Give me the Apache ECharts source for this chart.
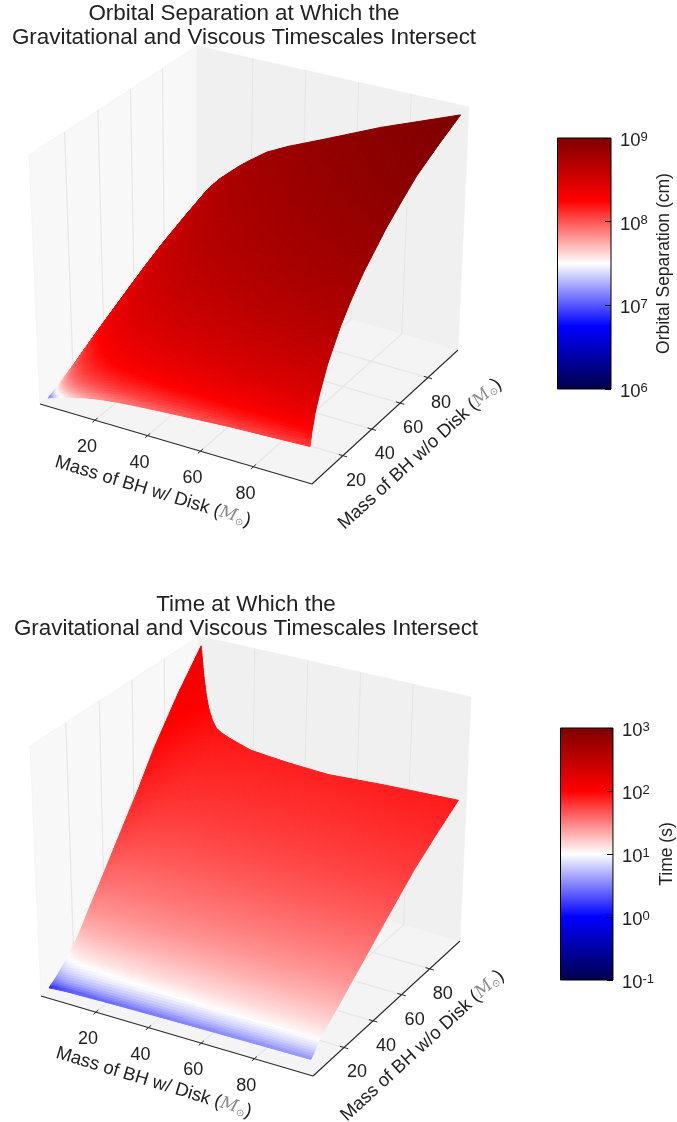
<!DOCTYPE html>
<html><head><meta charset="utf-8">
<style>html,body{margin:0;padding:0;background:#fff}#c{width:677px;height:1122px}</style>
<script src="https://cdn.jsdelivr.net/npm/echarts@6/dist/echarts.min.js"></script>
</head><body><div id="c"></div>
<script>
// ---------- data ----------
const massWithDisk = [1, 2, 3, 4, 5.5, 7, 9, 12, 16, 20, 27, 35, 50, 70, 100];
const massNoDisk   = [1, 2, 4, 7, 12, 20, 27, 35, 50, 60, 70, 85, 100];
const tickValues   = [20, 40, 60, 80];
// orbital separation in units of 1e8 cm; one row per massNoDisk value
const separationRows = [
  [0.11,0.15,0.19,0.23,0.28,0.33,0.40,0.48,0.58,0.66,0.76,0.84,0.95,1.08,1.20],
  [0.14,0.20,0.26,0.31,0.38,0.44,0.56,0.68,0.82,0.95,1.10,1.20,1.35,1.50,1.70],
  [0.20,0.28,0.36,0.43,0.53,0.62,0.78,0.95,1.11,1.25,1.45,1.60,1.80,2.05,2.35],
  [0.30,0.41,0.52,0.61,0.75,0.87,1.03,1.20,1.41,1.60,1.82,2.00,2.30,2.62,3.00],
  [0.45,0.60,0.75,0.87,1.03,1.16,1.32,1.52,1.76,1.97,2.24,2.48,2.87,3.34,3.90],
  [0.69,0.90,1.09,1.24,1.41,1.55,1.74,1.98,2.26,2.49,2.82,3.12,3.59,4.18,4.96],
  [0.91,1.15,1.36,1.54,1.72,1.88,2.08,2.33,2.65,2.90,3.26,3.60,4.12,4.80,5.70],
  [1.14,1.42,1.65,1.84,2.05,2.23,2.44,2.70,3.04,3.33,3.72,4.08,4.65,5.42,6.42],
  [1.59,1.92,2.19,2.41,2.62,2.80,3.03,3.33,3.68,3.98,4.42,4.84,5.51,6.36,7.53],
  [1.90,2.26,2.55,2.78,3.00,3.18,3.42,3.72,4.08,4.39,4.85,5.28,6.00,6.92,8.15],
  [2.21,2.60,2.92,3.13,3.34,3.52,3.76,4.06,4.44,4.77,5.24,5.68,6.42,7.46,8.75],
  [2.65,3.05,3.37,3.58,3.80,4.00,4.26,4.58,5.00,5.34,5.85,6.28,7.05,8.05,9.40],
  [3.10,3.50,3.80,4.00,4.22,4.42,4.68,5.00,5.42,5.80,6.40,6.88,7.65,8.68,10.0]
];
// time in seconds; one row per massNoDisk value
const timeRows = [
  [1.2,1.4,1.5,1.6,1.75,1.9,2.0,2.1,2.25,2.4,2.6,2.8,3.1,3.4,3.8],
  [2.0,2.1,2.2,2.3,2.45,2.6,2.7,2.8,2.95,3.1,3.3,3.5,3.8,4.2,4.7],
  [3.0,3.4,3.7,3.9,4.1,4.3,4.5,4.8,5.0,5.2,5.5,5.7,6.0,6.4,7.0],
  [5.0,5.7,6.2,6.5,6.9,7.2,7.6,8.0,8.3,8.6,9.0,9.3,9.8,10.4,11],
  [9,10,10.6,11,11.6,12,12.3,12.5,12.8,13,13.3,13.5,13.8,14,14.3],
  [17,18,18.6,19,19,19,19.5,20,20,20,20,20,20,20.3,20],
  [27,27,27,27,26.5,26.5,26.5,26.5,26.5,26.5,26.5,26.3,26,25.8,25.5],
  [38,37,36,35,34.5,34,33.5,33,33,33,33,32.8,32.5,32,31.5],
  [60,56,53,51,49,48,47,46,45.5,45,44.5,44,44,44,43.5],
  [75,68,64,61,58.5,57,55.5,54,53,52.5,52,52,51.5,51.5,51.5],
  [92,82,76,72,68,66,64,62,61,60,59.5,59,58.5,58.5,59.5],
  [114,98,90,84,79,76,74,72,70.5,69.5,68.5,67.5,67,67.5,69.5],
  [134,117,105,97,90,86,84,82,80,78,77,76,75,77,79]
];
const titleTop = 'Orbital Separation at Which the\nGravitational and Viscous Timescales Intersect';
const titleBottom = 'Time at Which the\nGravitational and Viscous Timescales Intersect';
const xName = 'Mass of BH w/ Disk (';
const yName = 'Mass of BH w/o Disk (';
const cbarTopName = 'Orbital Separation (cm)';
const cbarBottomName = 'Time (s)';
const seismic = [[0,[0,0,76]],[0.25,[0,0,255]],[0.5,[255,255,255]],[0.75,[255,0,0]],[1,[127,0,0]]];

// ---------- view of each 3D box ----------
const viewTop = {
  floor:[[40,404],[312,484],[458,350],[197,275]],
  roof:[[29,155],[316,218],[469,107],[197,46]],
  xLim:[-1,102], yLim:[-1,102], zLim:[-0.1,10.3], zScale:1e8,
  cLim:[6,9], rows:separationRows,
  xLabelOff:[-8,27], yLabelOff:[13,25], xNameOff:[-21,48], yNameOff:[34,38]
};
const viewBottom = {
  floor:[[41,996],[313,1076],[460,941],[198,866]],
  roof:[[30,746],[317,809],[471,697],[199,636]],
  xLim:[-1,102], yLim:[-1,102], zLim:[-2.7,138], zScale:1,
  cLim:[-1,3], rows:timeRows,
  xLabelOff:[-8,27], yLabelOff:[13,25], xNameOff:[-21,47], yNameOff:[35,38]
};
function quadMap(q){
  const [x0,y0]=q[0],[x1,y1]=q[1],[x2,y2]=q[2],[x3,y3]=q[3];
  const dx1=x1-x2,dx2=x3-x2,sx=x0-x1+x2-x3,dy1=y1-y2,dy2=y3-y2,sy=y0-y1+y2-y3;
  const den=dx1*dy2-dx2*dy1, g=(sx*dy2-dx2*sy)/den, h=(dx1*sy-sx*dy1)/den;
  const a=x1-x0+g*x1,b=x3-x0+h*x3,d=y1-y0+g*y1,e=y3-y0+h*y3;
  return (u,v)=>{const w=g*u+h*v+1;return [(a*u+b*v+x0)/w,(d*u+e*v+y0)/w];};
}
function makeProjector(view){
  const fl=quadMap(view.floor), rf=quadMap(view.roof);
  return (x,y,z)=>{
    const u=(x-view.xLim[0])/(view.xLim[1]-view.xLim[0]);
    const v=(y-view.yLim[0])/(view.yLim[1]-view.yLim[0]);
    const w=(z-view.zLim[0])/(view.zLim[1]-view.zLim[0]);
    const p=fl(u,v),q=rf(u,v);
    return [p[0]+(q[0]-p[0])*w,p[1]+(q[1]-p[1])*w];
  };
}
function cmap(t){
  t=Math.max(0,Math.min(1,t));
  for(let i=1;i<seismic.length;i++){
    if(t<=seismic[i][0]){
      const a=seismic[i-1],b=seismic[i],f=(t-a[0])/(b[0]-a[0]);
      const c=a[1].map((v,k)=>Math.round(v+(b[1][k]-v)*f));
      return 'rgb('+c.join(',')+')';
    }
  }
  return 'rgb(127,0,0)';
}
const FONT='"Liberation Sans",Arial,sans-serif', INK='#222';

function boxSeries(view){
  const P=makeProjector(view);
  const [xa,xb]=view.xLim,[ya,yb]=view.yLim,[za,zb]=view.zLim;
  return {
    type:'custom',coordinateSystem:'cartesian2d',xAxisIndex:0,yAxisIndex:0,silent:true,clip:false,z:1,
    data:[[0]],
    renderItem(params,api){
      const C=p=>api.coord(p), kids=[];
      const poly=(pts,fill)=>kids.push({type:'polygon',silent:true,shape:{points:pts.map(C)},style:{fill,stroke:'#f0f0f0',lineWidth:0.6}});
      const line=(a,b,stroke,lw)=>{const p=C(a),q=C(b);kids.push({type:'line',silent:true,shape:{x1:p[0],y1:p[1],x2:q[0],y2:q[1]},style:{stroke,lineWidth:lw}});};
      poly([P(xa,ya,za),P(xa,yb,za),P(xa,yb,zb),P(xa,ya,zb)],'#f8f8f8');
      poly([P(xa,yb,za),P(xb,yb,za),P(xb,yb,zb),P(xa,yb,zb)],'#f0f0f0');
      poly([P(xa,ya,za),P(xb,ya,za),P(xb,yb,za),P(xa,yb,za)],'#f4f4f4');
      tickValues.forEach(t=>{
        line(P(xa,t,za),P(xa,t,zb),'#e6e6e6',1.2);
        line(P(t,yb,za),P(t,yb,zb),'#e6e6e6',1.2);
        line(P(xa,t,za),P(xb,t,za),'#e6e6e6',1.2);
        line(P(t,ya,za),P(t,yb,za),'#e6e6e6',1.2);
      });
      line(P(xa,ya,za),P(xb,ya,za),'#2a2a2a',1.1);
      line(P(xb,ya,za),P(xb,yb,za),'#2a2a2a',1.1);
      const txt=(text,p,off)=>{const q=C(p);kids.push({type:'text',silent:true,x:q[0]+off[0],y:q[1]+off[1],
        style:{text,fill:INK,font:'18px '+FONT,align:'center',verticalAlign:'middle'}});};
      tickValues.forEach(t=>{
        line(P(t,ya-1.6,za),P(t,ya+1.6,za),'#2a2a2a',1);
        line(P(xb-1.6,t,za),P(xb+1.6,t,za),'#2a2a2a',1);
        txt(String(t),P(t,ya,za),view.xLabelOff);
        txt(String(t),P(xb,t,za),view.yLabelOff);
      });
      const rich={m:{fontStyle:'italic',fontFamily:'"DejaVu Serif"',fontSize:17,fill:'#8a8a8a',color:'#8a8a8a'},
                  s:{fontFamily:'"DejaVu Sans"',fontSize:10,fill:'#8a8a8a',color:'#8a8a8a',verticalAlign:'bottom',padding:[6,0,0,0]}};
      const nameEl=(name,p,off,deg)=>{const q=C(p);kids.push({type:'text',silent:true,x:q[0]+off[0],y:q[1]+off[1],rotation:deg*Math.PI/180,
        style:{text:name+'{m|M}{s|⊙})',fill:INK,font:'18.5px '+FONT,align:'center',verticalAlign:'middle',rich}});};
      nameEl(xName,P(50,ya,za),view.xNameOff,-17);
      nameEl(yName,P(xb,50,za),view.yNameOff,42.5);
      return {type:'group',children:kids};
    }
  };
}
function surfaceSeries(view){
  const P=makeProjector(view), rows=view.rows;
  const cells=[];
  for(let j=massNoDisk.length-2;j>=0;j--) for(let i=0;i<massWithDisk.length-1;i++) cells.push([i,j]);
  const span=view.cLim[1]-view.cLim[0];
  const dist=(a,b)=>Math.hypot(a[0]-b[0],a[1]-b[1]);
  return {
    type:'custom',coordinateSystem:'cartesian2d',xAxisIndex:0,yAxisIndex:0,silent:true,clip:false,z:2,
    data:cells,
    renderItem(params,api){
      const i=api.value(0),j=api.value(1);
      const idx=[[i,j],[i+1,j],[i+1,j+1],[i,j+1]];
      const p=idx.map(([a,b])=>api.coord(P(massWithDisk[a],massNoDisk[b],rows[b][a])));
      const v=idx.map(([a,b])=>Math.log10(rows[b][a]*view.zScale));
      // each grid cell is shaded as small flat facets between its four data corners
      const nu=Math.max(1,Math.ceil(Math.max(dist(p[0],p[1]),dist(p[3],p[2]))/3));
      const nv=Math.max(1,Math.ceil(Math.max(dist(p[0],p[3]),dist(p[1],p[2]))/3));
      const at=(s,t)=>{
        const a=(1-s)*(1-t),b=s*(1-t),c=s*t,d=(1-s)*t;
        return [a*p[0][0]+b*p[1][0]+c*p[2][0]+d*p[3][0],a*p[0][1]+b*p[1][1]+c*p[2][1]+d*p[3][1]];
      };
      const tone=(s,t)=>(1-s)*(1-t)*v[0]+s*(1-t)*v[1]+s*t*v[2]+(1-s)*t*v[3];
      const kids=[];
      for(let b=nv-1;b>=0;b--) for(let a=0;a<nu;a++){
        const s0=a/nu,s1=(a+1)/nu,t0=b/nv,t1=(b+1)/nv;
        const col=cmap((tone((s0+s1)/2,(t0+t1)/2)-view.cLim[0])/span);
        kids.push({type:'polygon',silent:true,shape:{points:[at(s0,t0),at(s1,t0),at(s1,t1),at(s0,t1)]},
          style:{fill:col,stroke:col,lineWidth:1,lineJoin:'round'}});
      }
      return {type:'group',children:kids};
    }
  };
}
function cbarSeries(axisIdx,lo,hi){
  return {
    type:'custom',coordinateSystem:'cartesian2d',xAxisIndex:axisIdx,yAxisIndex:axisIdx,silent:true,clip:false,z:-1,
    data:[[0,lo,hi]],
    renderItem(params,api){
      const a=api.coord([0,api.value(1)]),b=api.coord([1,api.value(2)]);
      const grad=new echarts.graphic.LinearGradient(0,1,0,0,seismic.map(s=>({offset:s[0],color:'rgb('+s[1].join(',')+')'})));
      return {type:'rect',silent:true,shape:{x:a[0],y:b[1],width:b[0]-a[0],height:a[1]-b[1]},style:{fill:grad}};
    }
  };
}
function cbarAxis(idx,lo,hi,name,gap){
  return {type:'log',logBase:10,gridIndex:idx,min:lo,max:hi,position:'right',z:5,
    axisLine:{show:false,onZero:false},axisTick:{show:true,inside:true,length:6,lineStyle:{color:'#000',width:1}},
    minorTick:{show:false},splitLine:{show:false},
    axisLabel:{show:true,showMinLabel:true,showMaxLabel:true,margin:9,color:INK,fontFamily:FONT,fontSize:18.5,padding:[6,0,0,0],
      formatter:v=>'10{s|'+Math.round(Math.log10(v))+'}',
      rich:{s:{fontFamily:FONT,fontSize:13,color:INK,verticalAlign:'top',padding:[0,0,8,0]}}},
    name,nameLocation:'middle',nameRotate:90,nameGap:gap,nameTextStyle:{color:INK,fontFamily:FONT,fontSize:17.5}};
}
const titleStyle={color:INK,fontFamily:FONT,fontSize:22.4,fontWeight:'normal',lineHeight:24};
const option={
  animation:false,backgroundColor:'#fff',
  title:[
    {text:titleTop,left:244,top:2,textAlign:'center',textStyle:titleStyle,padding:0},
    {text:titleBottom,left:246,top:593,textAlign:'center',textStyle:titleStyle,padding:0}
  ],
  grid:[
    {left:0,top:0,width:677,height:1122},
    {left:557.5,top:138,width:53.5,height:251,show:true,borderColor:'#000',borderWidth:1,backgroundColor:'transparent'},
    {left:560.5,top:728,width:53.5,height:252,show:true,borderColor:'#000',borderWidth:1,backgroundColor:'transparent'}
  ],
  xAxis:[
    {type:'value',gridIndex:0,min:0,max:677,show:false},
    {type:'value',gridIndex:1,min:0,max:1,show:false},
    {type:'value',gridIndex:2,min:0,max:1,show:false}
  ],
  yAxis:[
    {type:'value',gridIndex:0,min:0,max:1122,inverse:true,show:false},
    cbarAxis(1,1e6,1e9,cbarTopName,44),
    cbarAxis(2,0.1,1000,cbarBottomName,44)
  ],
  series:[
    boxSeries(viewTop),surfaceSeries(viewTop),
    boxSeries(viewBottom),surfaceSeries(viewBottom),
    cbarSeries(1,1e6,1e9),cbarSeries(2,0.1,1000)
  ]
};
echarts.init(document.getElementById('c'),null,{renderer:'canvas'}).setOption(option);
</script></body></html>
